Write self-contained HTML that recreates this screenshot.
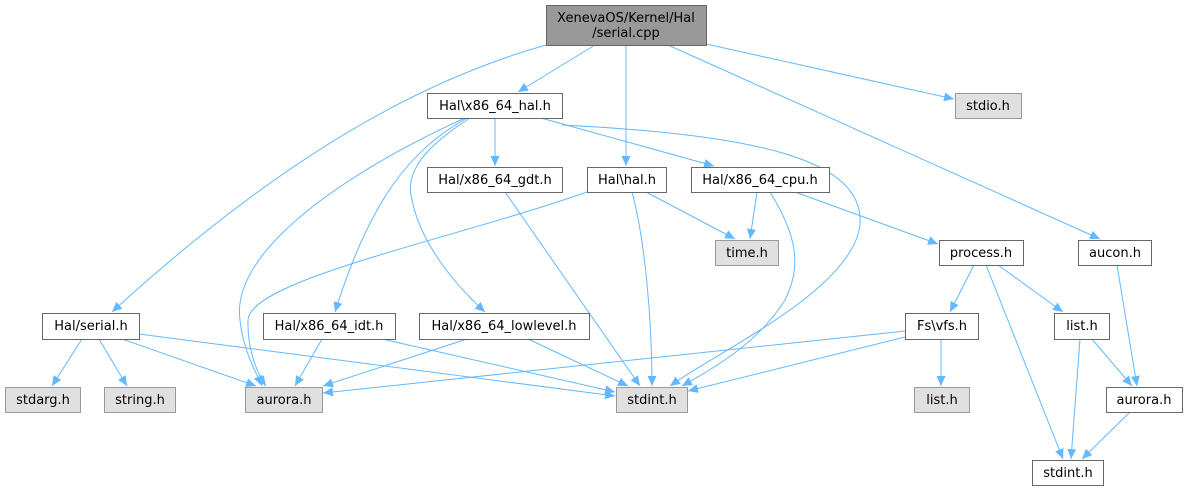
<!DOCTYPE html>
<html><head><meta charset="utf-8">
<style>
html,body{margin:0;padding:0;background:#fff;}
svg{display:block;}
text{font-family:"DejaVu Sans","Liberation Sans",sans-serif;font-size:13px;fill:#000;}
</style></head>
<body>
<svg width="1187" height="491" viewBox="0 0 1187 491" xmlns="http://www.w3.org/2000/svg">
<defs>
<marker id="a" markerWidth="11" markerHeight="9" refX="10" refY="4.5" orient="auto" markerUnits="userSpaceOnUse">
<path d="M0,0 L10,4.5 L0,9 z" fill="#63b8ff"/>
</marker>
</defs>
<g fill="none" stroke="#63b8ff" stroke-width="1" marker-end="url(#a)">
<path d="M546,45 C440,75 300,140 112,312"/>
<path d="M595,45 L518,92"/>
<path d="M626,45 L626,166"/>
<path d="M706,44 L954,99"/>
<path d="M668,45 L1100,239"/>
<path d="M495,118 L495,166"/>
<path d="M541,118 L714,166"/>
<path d="M562,125 C760,135 865,160 860,225 C852,290 720,350 670,386"/>
<path d="M465,118 C350,170 230,250 240,320 C243,350 255,370 262,386"/>
<path d="M467,118 C410,150 370,200 335,312"/>
<path d="M470,118 C420,150 405,175 412,200 C420,240 450,280 485,312"/>
<path d="M646,192 L735,239"/>
<path d="M632,192 C645,240 652,320 652,386"/>
<path d="M587,192 C450,240 250,280 248,320 C247,350 258,375 266,386"/>
<path d="M505,192 L640,386"/>
<path d="M757,192 L750,239"/>
<path d="M770,192 C800,240 800,270 785,300 C760,340 720,365 682,386"/>
<path d="M795,192 L938,244"/>
<path d="M974,265 L950,312"/>
<path d="M998,265 L1063,312"/>
<path d="M986,265 L1063,459"/>
<path d="M1117,265 L1137,386"/>
<path d="M1080,339 L1071,459"/>
<path d="M1092,339 L1132,386"/>
<path d="M1130,412 L1082,459"/>
<path d="M941,339 L941,386"/>
<path d="M905,337 L688,391"/>
<path d="M905,331 L323,393"/>
<path d="M82,339 L52,386"/>
<path d="M99,339 L127,386"/>
<path d="M122,339 L256,386"/>
<path d="M139,334 L615,396"/>
<path d="M322,339 L295,386"/>
<path d="M382,339 L615,392"/>
<path d="M467,339 L323,386"/>
<path d="M528,339 L628,386"/>
</g>
<g stroke-width="1">
<rect x="546.5" y="5.5" width="160" height="40" fill="#999" stroke="#666"/>
<rect x="427.5" y="93.5" width="135" height="25" fill="#fff" stroke="#666"/>
<rect x="955.5" y="93.5" width="66" height="25" fill="#e0e0e0" stroke="#999"/>
<rect x="427.5" y="167.5" width="135" height="25" fill="#fff" stroke="#666"/>
<rect x="587.5" y="167.5" width="79" height="25" fill="#fff" stroke="#666"/>
<rect x="691.5" y="167.5" width="138" height="25" fill="#fff" stroke="#666"/>
<rect x="715.5" y="240.5" width="63" height="25" fill="#e0e0e0" stroke="#999"/>
<rect x="939.5" y="240.5" width="84" height="25" fill="#fff" stroke="#666"/>
<rect x="1078.5" y="240.5" width="73" height="25" fill="#fff" stroke="#666"/>
<rect x="42.5" y="313.5" width="97" height="26" fill="#fff" stroke="#666"/>
<rect x="263.5" y="313.5" width="132" height="26" fill="#fff" stroke="#666"/>
<rect x="419.5" y="313.5" width="170" height="26" fill="#fff" stroke="#666"/>
<rect x="905.5" y="313.5" width="73" height="26" fill="#fff" stroke="#666"/>
<rect x="1054.5" y="313.5" width="55" height="26" fill="#fff" stroke="#666"/>
<rect x="5.5" y="387.5" width="75" height="25" fill="#e0e0e0" stroke="#999"/>
<rect x="104.5" y="387.5" width="71" height="25" fill="#e0e0e0" stroke="#999"/>
<rect x="245.5" y="387.5" width="77" height="25" fill="#e0e0e0" stroke="#999"/>
<rect x="616.5" y="387.5" width="71" height="25" fill="#e0e0e0" stroke="#999"/>
<rect x="914.5" y="387.5" width="55" height="25" fill="#e0e0e0" stroke="#999"/>
<rect x="1106.5" y="387.5" width="76" height="25" fill="#fff" stroke="#666"/>
<rect x="1032.5" y="460.5" width="71" height="25" fill="#fff" stroke="#666"/>
</g>
<g text-anchor="middle">
<text x="626" y="22">XenevaOS/Kernel/Hal</text>
<text x="626" y="37">/serial.cpp</text>
<text x="495" y="110">Hal\x86_64_hal.h</text>
<text x="988" y="110">stdio.h</text>
<text x="495" y="184">Hal/x86_64_gdt.h</text>
<text x="627" y="184">Hal\hal.h</text>
<text x="760" y="184">Hal/x86_64_cpu.h</text>
<text x="747" y="257">time.h</text>
<text x="981" y="257">process.h</text>
<text x="1115" y="257">aucon.h</text>
<text x="91" y="330">Hal/serial.h</text>
<text x="329" y="330">Hal/x86_64_idt.h</text>
<text x="504" y="330">Hal/x86_64_lowlevel.h</text>
<text x="942" y="330">Fs\vfs.h</text>
<text x="1082" y="330">list.h</text>
<text x="43" y="404">stdarg.h</text>
<text x="140" y="404">string.h</text>
<text x="284" y="404">aurora.h</text>
<text x="652" y="404">stdint.h</text>
<text x="942" y="404">list.h</text>
<text x="1144" y="404">aurora.h</text>
<text x="1068" y="477">stdint.h</text>
</g>
</svg>
</body></html>
